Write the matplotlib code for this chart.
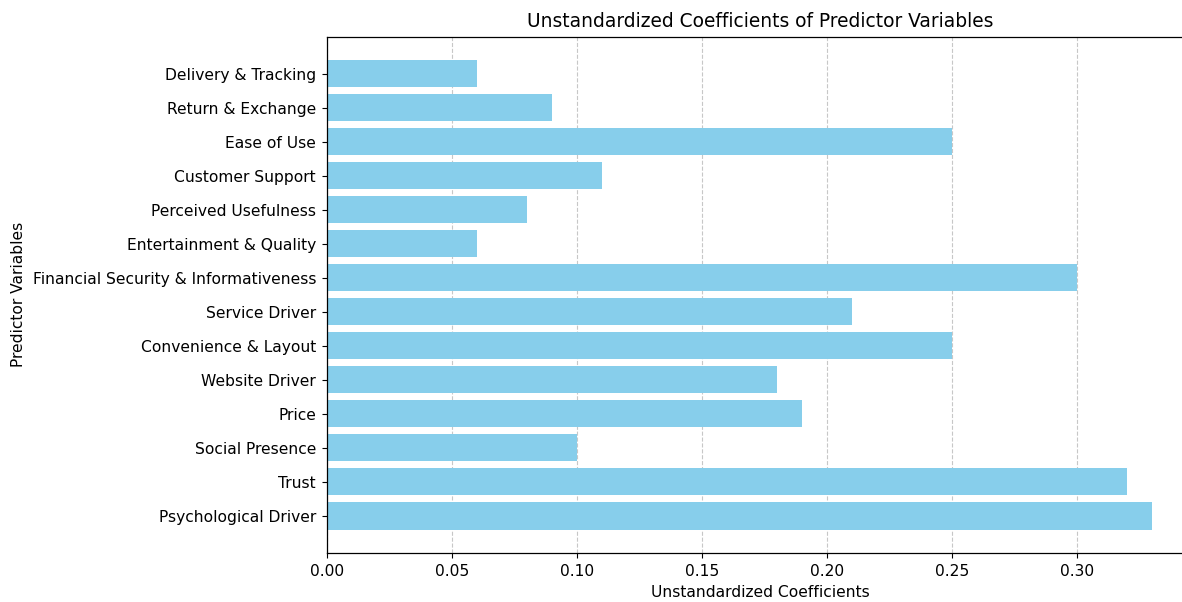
import matplotlib
matplotlib.use("Agg")
import matplotlib.pyplot as plt

variables = ["Psychological Driver", "Trust", "Social Presence", "Price",
             "Website Driver", "Convenience & Layout", "Service Driver",
             "Financial Security & Informativeness", "Entertainment & Quality",
             "Perceived Usefulness", "Customer Support", "Ease of Use",
             "Return & Exchange", "Delivery & Tracking"]
coefficients = [0.33, 0.32, 0.10, 0.19, 0.18, 0.25, 0.21,
                0.30, 0.06, 0.08, 0.11, 0.25, 0.09, 0.06]

s = 1.12
plt.rcParams.update({
    "font.size": 10 * s,
    "axes.titlesize": 12 * s,
    "axes.titlepad": 6 * s,
    "axes.labelpad": 4 * s,
    "xtick.major.size": 3.5 * s,
    "ytick.major.size": 3.5 * s,
    "xtick.major.pad": 3.5 * s,
    "ytick.major.pad": 3.5 * s,
    "axes.linewidth": 0.8 * s,
})

fig = plt.figure(figsize=(11.82, 6.02), dpi=100)
ax = fig.add_axes([327/1182, 49/602, 866/1182, 516.5/602])
ax.barh(variables, coefficients, color="skyblue")
ax.set_xlim(0, 0.3465)
ax.set_xlabel("Unstandardized Coefficients")
ax.set_ylabel("Predictor Variables")
ax.set_title("Unstandardized Coefficients of Predictor Variables")
ax.grid(axis="x", linestyle="--", alpha=0.7)
ax.set_axisbelow(True)
ax.spines["right"].set_visible(False)

fig.savefig("out.png", dpi=100)
